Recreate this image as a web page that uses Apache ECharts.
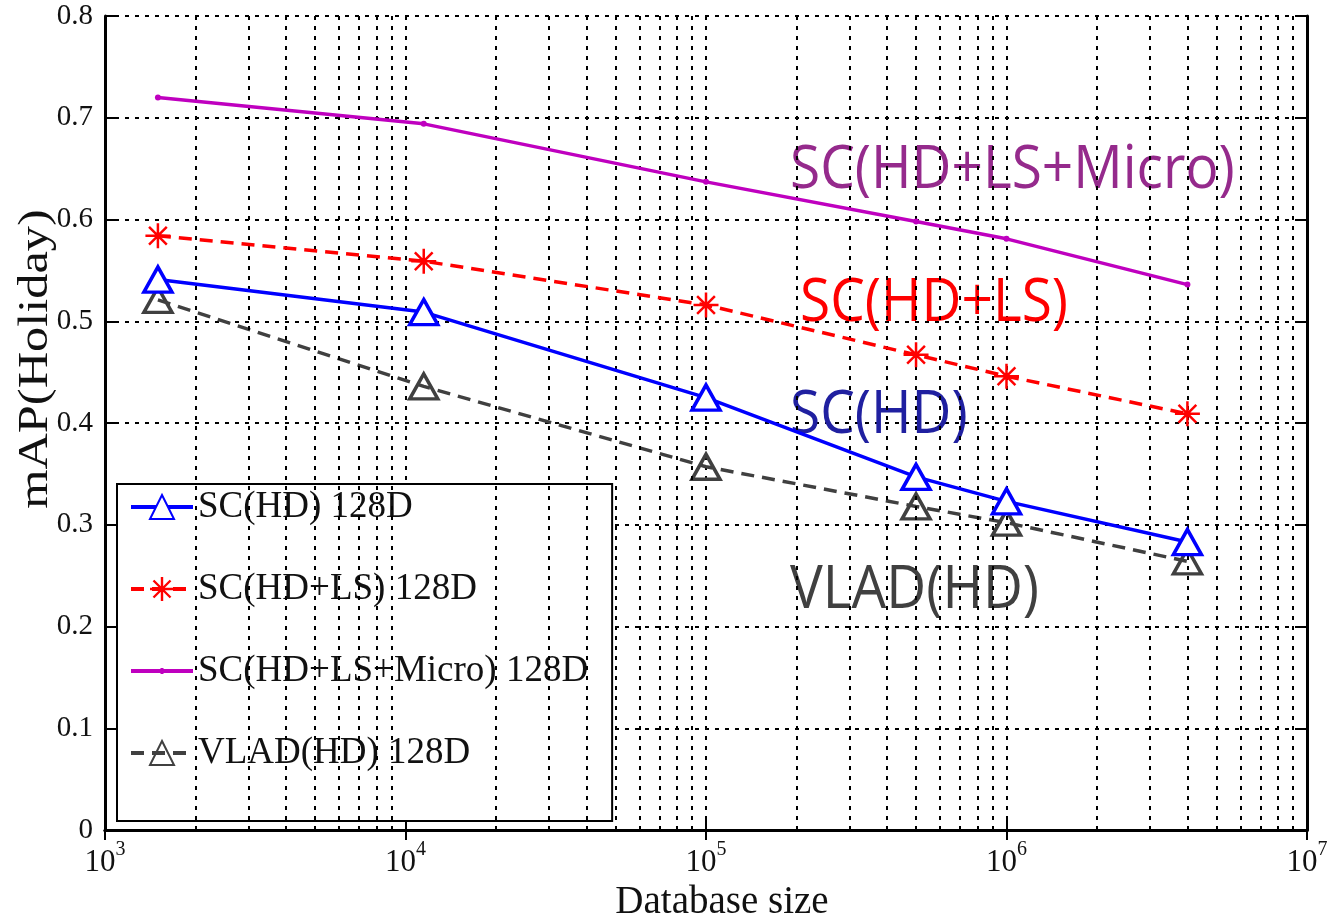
<!DOCTYPE html>
<html>
<head>
<meta charset="utf-8">
<script src="https://cdn.jsdelivr.net/npm/echarts@6/dist/echarts.min.js"></script>
<style>
  html, body { margin: 0; padding: 0; background: #fff; }
  #echart { width: 1330px; height: 916px; }
</style>
</head>
<body>
<div id="echart"></div>
<script>
// database sizes (x) and mAP values
var dbSizes = [1500, 11500, 100000, 500000, 1000000, 4000000]
var scHD = [0.541, 0.509, 0.425, 0.347, 0.323, 0.283]
var scHDLS = [0.584, 0.559, 0.516, 0.467, 0.446, 0.409]
var scHDLSMicro = [0.720, 0.694, 0.637, 0.598, 0.581, 0.536]
var vladHD = [0.521, 0.436, 0.357, 0.318, 0.302, 0.264]

var seriesNames = ['SC(HD) 128D', 'SC(HD+LS) 128D', 'SC(HD+LS+Micro) 128D', 'VLAD(HD) 128D']
var yTicks = [0, 0.1, 0.2, 0.3, 0.4, 0.5, 0.6, 0.7, 0.8]

// minor log grid lines 2..9 x 10^k
var minorX = []
for (var k = 3; k < 7; k++) {
  for (var m = 2; m <= 9; m++) {
    minorX.push(m * Math.pow(10, k))
  }
}

function pairs(ys) {
  return dbSizes.map(function (x, i) { return [x, ys[i]] })
}

// asterisk marker ('*' in matlab)
var starPath = 'path://M9 0L11 0L11 20L9 20Z M0 9L20 9L20 11L0 11Z ' +
  'M3.6 2.2L17.8 16.4L16.4 17.8L2.2 3.6Z M16.4 2.2L17.8 3.6L3.6 17.8L2.2 16.4Z'
// legend icon for the point marker line: thin line + tiny dot (corners fix the box)
var dotLineIcon = 'path://M0 0L0.01 0L0.01 0.01Z M61.99 29.99L62 29.99L62 30Z ' +
  'M0 13L62 13L62 17L0 17Z M29.5 12L32.5 12L32.5 18L29.5 18Z'

var serif = 'Liberation Serif'
var dotted = { color: '#000', width: 2, type: [4, 6] }
var annoFont = '55px "Open Sans"'

var chart = echarts.init(document.getElementById('echart'))
chart.setOption({
  animation: false,
  backgroundColor: '#fff',
  grid: { left: 105, right: 23, top: 16, bottom: 86, containLabel: false, outerBoundsMode: 'none' },
  legend: {
    data: [
      { name: seriesNames[0] },
      { name: seriesNames[1] },
      { name: seriesNames[2], icon: dotLineIcon },
      { name: seriesNames[3] }
    ],
    orient: 'vertical',
    left: 117,
    top: 484,
    backgroundColor: '#fff',
    borderColor: '#000',
    borderWidth: 2,
    borderRadius: 0,
    padding: [3, 24, 48, 12],
    itemWidth: 62,
    itemHeight: 30,
    itemGap: 42,
    lineStyle: { width: 4 },
    textStyle: { fontFamily: serif, fontSize: 37, color: '#111', lineHeight: 40 }
  },
  xAxis: [{
    type: 'log',
    logBase: 10,
    min: 1000,
    max: 10000000,
    name: 'Database size',
    nameLocation: 'middle',
    nameGap: 43,
    nameTextStyle: { fontFamily: serif, fontSize: 39, color: '#111', padding: [0, 0, 0, 32] },
    axisLine: { lineStyle: { color: '#000', width: 3 } },
    axisTick: { inside: true, length: 10, lineStyle: { color: '#000', width: 2 } },
    axisLabel: {
      margin: 10,
      formatter: function (v) {
        return '{b|10}{s|' + Math.round(Math.log10(v)) + '}'
      },
      rich: {
        b: { fontFamily: serif, fontSize: 31, color: '#111', verticalAlign: 'bottom', lineHeight: 38 },
        s: { fontFamily: serif, fontSize: 20, color: '#111', verticalAlign: 'top', lineHeight: 38 }
      }
    },
    splitLine: { show: true, lineStyle: dotted }
  }, {
    type: 'log',
    logBase: 10,
    min: 1000,
    max: 10000000,
    position: 'top',
    axisLine: { lineStyle: { color: '#000', width: 3 } },
    axisTick: { inside: true, length: 10, lineStyle: { color: '#000', width: 2 } },
    axisLabel: { show: false },
    splitLine: { show: false }
  }],
  yAxis: [{
    type: 'value',
    min: 0,
    max: 0.8,
    interval: 0.1,
    axisLine: { show: true, lineStyle: { color: '#000', width: 3 } },
    axisTick: { show: true, inside: true, length: 12, lineStyle: { color: '#000', width: 2 } },
    axisLabel: {
      margin: 12,
      fontFamily: serif,
      fontSize: 29,
      color: '#111',
      formatter: function (v) { return yTicks.indexOf(+v.toFixed(1)) >= 0 ? String(+v.toFixed(1)) : '' }
    },
    splitLine: { show: true, lineStyle: dotted }
  }, {
    type: 'value',
    min: 0,
    max: 0.8,
    interval: 0.1,
    position: 'right',
    axisLine: { show: true, lineStyle: { color: '#000', width: 3 } },
    axisTick: { show: true, inside: true, length: 12, lineStyle: { color: '#000', width: 2 } },
    axisLabel: { show: false },
    splitLine: { show: false }
  }],
  graphic: [
    // y axis title, placed like the original (above the axis centre)
    {
      type: 'text', x: 36, y: 359, rotation: Math.PI / 2, scaleX: 1.2, z: 3,
      style: { text: 'mAP(Holiday)', fill: '#111', font: '42px "Liberation Serif"', align: 'center', verticalAlign: 'middle' }
    },
    { type: 'text', left: 790, top: 141, scaleY: 1.1, z: 3, style: { text: 'SC(HD+LS+Micro)', fill: '#952a8c', font: annoFont } },
    { type: 'text', left: 800, top: 274, scaleY: 1.1, z: 3, style: { text: 'SC(HD+LS)', fill: '#ff0000', font: annoFont } },
    { type: 'text', left: 790, top: 386, scaleY: 1.1, z: 3, style: { text: 'SC(HD)', fill: '#2020a0', font: annoFont } },
    { type: 'text', left: 790, top: 561, scaleY: 1.1, z: 3, style: { text: 'VLAD(HD)', fill: '#404040', font: annoFont } }
  ],
  series: [
    {
      // minor grid lines of the log axis
      name: 'minor-grid',
      type: 'line',
      data: [],
      silent: true,
      markLine: {
        silent: true,
        symbol: 'none',
        label: { show: false },
        lineStyle: dotted,
        data: minorX.map(function (x) { return { xAxis: x } })
      }
    },
    {
      name: seriesNames[0],
      type: 'line',
      data: pairs(scHD),
      symbol: 'triangle',
      symbolSize: [28, 25],
      itemStyle: { color: '#fff', borderColor: '#0000ff', borderWidth: 3.5 },
      lineStyle: { color: '#0000ff', width: 3.5 },
      z: 5
    },
    {
      name: seriesNames[1],
      type: 'line',
      data: pairs(scHDLS),
      symbol: starPath,
      symbolSize: 25,
      itemStyle: { color: '#ff0000' },
      lineStyle: { color: '#ff0000', width: 3.5, type: [13, 8] },
      z: 5
    },
    {
      name: seriesNames[2],
      type: 'line',
      data: pairs(scHDLSMicro),
      symbol: 'circle',
      symbolSize: 6,
      itemStyle: { color: '#bf00bf' },
      lineStyle: { color: '#bf00bf', width: 3.5 },
      z: 5
    },
    {
      name: seriesNames[3],
      type: 'line',
      data: pairs(vladHD),
      symbol: 'triangle',
      symbolSize: [28, 25],
      itemStyle: { color: 'rgba(255,255,255,0)', borderColor: '#404040', borderWidth: 3.5 },
      lineStyle: { color: '#404040', width: 3.5, type: [13, 8] },
      z: 4
    }
  ]
})
</script>
</body>
</html>
